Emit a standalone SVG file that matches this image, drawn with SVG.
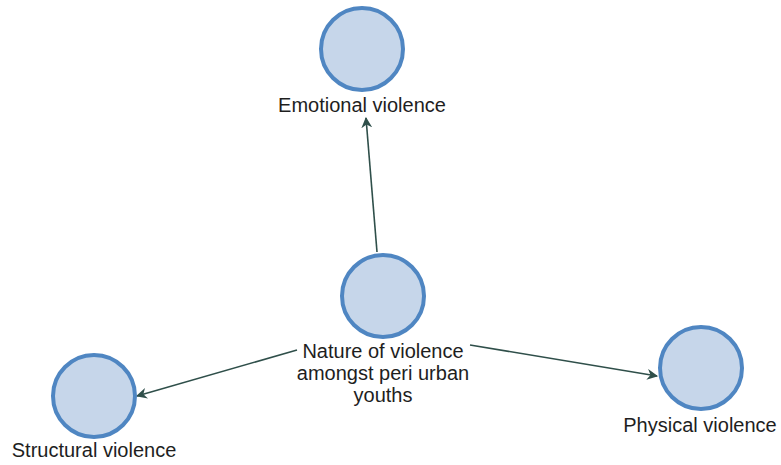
<svg xmlns="http://www.w3.org/2000/svg" width="781" height="465" viewBox="0 0 781 465">
  <style>
    .node circle { fill: #c6d6ea; stroke: #4f86c2; stroke-width: 4; }
    .label { font-family: "Liberation Sans", Arial, sans-serif; font-size: 20px; fill: #1e1e1e; text-anchor: middle; }
    .edge { stroke: #2f4f4a; stroke-width: 1.6; fill: none; marker-end: url(#arrow); }
  </style>
  <defs>
    <marker id="arrow" viewBox="0 0 10 10" refX="9" refY="5" markerWidth="11" markerHeight="11" markerUnits="userSpaceOnUse" orient="auto">
      <path d="M0,0 L10,5 L0,10 L3,5 Z" fill="#2f4f4a"/>
    </marker>
  </defs>

  <rect width="781" height="465" fill="#ffffff"/>

  <g id="connectors">
    <line class="edge" x1="377" y1="252" x2="366" y2="118"/>
    <line class="edge" x1="297" y1="350" x2="137" y2="396"/>
    <line class="edge" x1="470" y1="345" x2="657" y2="376"/>
  </g>

  <g id="node-emotional" class="node">
    <circle cx="362" cy="49" r="41"/>
    <text class="label" x="362" y="112">Emotional violence</text>
  </g>

  <g id="node-nature" class="node">
    <circle cx="383" cy="296" r="41"/>
    <text class="label" x="383" y="358">Nature of violence</text>
    <text class="label" x="383" y="380">amongst peri urban</text>
    <text class="label" x="383" y="402">youths</text>
  </g>

  <g id="node-structural" class="node">
    <circle cx="94" cy="396" r="41"/>
    <text class="label" x="94" y="457">Structural violence</text>
  </g>

  <g id="node-physical" class="node">
    <circle cx="701" cy="368" r="41"/>
    <text class="label" x="700" y="432">Physical violence</text>
  </g>
</svg>
